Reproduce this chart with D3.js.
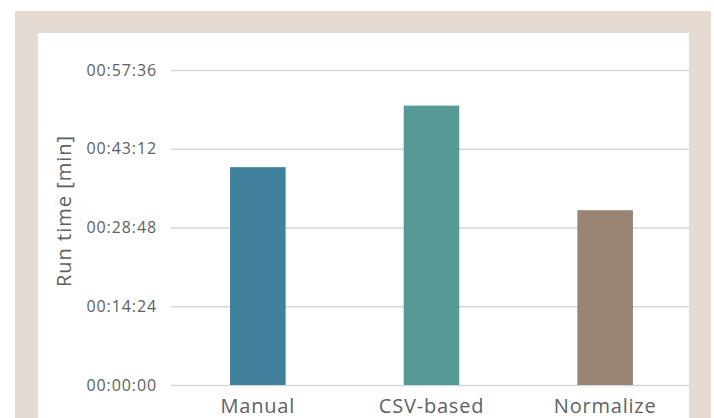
<!DOCTYPE html>
<html>
<head>
<meta charset="utf-8">
<script src="https://cdn.jsdelivr.net/npm/d3@7"></script>
<style>
  html, body { margin: 0; padding: 0; background: #fff; }
  svg { display: block; font-family: "Open Sans", sans-serif; }
</style>
</head>
<body>
<svg id="chart" width="714" height="418"></svg>
<script>
// run times in seconds
const methods = ['Manual', 'CSV-based', 'Normalize'];
const runSeconds = [2390, 3065, 1918];
const barColors = ['#42819e', '#569995', '#9a8574'];
const tickSeconds = [0, 864, 1728, 2592, 3456];

const width = 714, height = 418;
const plot = { left: 171, right: 689, top: 70, bottom: 385 };

const svg = d3.select('#chart');

// beige frame + white panel
svg.append('rect')
  .attr('x', 15).attr('y', 11)
  .attr('width', 696).attr('height', height - 11)
  .attr('fill', '#e6dbd2');
svg.append('rect')
  .attr('x', 38).attr('y', 33)
  .attr('width', 651).attr('height', height - 33)
  .attr('fill', '#fff');

const x = d3.scaleBand()
  .domain(methods)
  .range([plot.left, plot.right + 3])
  .paddingInner(0.68)
  .paddingOuter(0.34);

const y = d3.scaleLinear()
  .domain([0, 3456])
  .range([plot.bottom, plot.top]);

const fmt = s => {
  const h = Math.floor(s / 3600), m = Math.floor((s % 3600) / 60), sec = s % 60;
  return [h, m, sec].map(v => String(v).padStart(2, '0')).join(':');
};

// y axis with gridlines
svg.append('g')
  .attr('transform', `translate(${plot.left},0)`)
  .call(d3.axisLeft(y).tickValues(tickSeconds).tickFormat(fmt).tickSize(0).tickPadding(14))
  .call(g => g.select('.domain').remove())
  .call(g => g.selectAll('.tick text')
    .attr('fill', '#5e6164')
    .attr('font-size', 16)
    .attr('letter-spacing', '0.9px')
    .attr('font-family', '"Open Sans", sans-serif'))
  .call(g => g.selectAll('.tick line').clone()
    .attr('x2', plot.right - plot.left)
    .attr('stroke', '#d3d6da')
    .attr('stroke-width', 1.6));

// bars
svg.append('g')
  .selectAll('rect')
  .data(methods)
  .join('rect')
    .attr('x', d => x(d))
    .attr('width', x.bandwidth())
    .attr('y', (d, i) => y(runSeconds[i]))
    .attr('height', (d, i) => y(0) - y(runSeconds[i]))
    .attr('fill', (d, i) => barColors[i]);

// x axis labels
svg.append('g')
  .attr('transform', `translate(0,${plot.bottom})`)
  .call(d3.axisBottom(x).tickSize(0).tickPadding(14))
  .call(g => g.select('.domain').remove())
  .call(g => g.selectAll('.tick text')
    .attr('fill', '#5e6164')
    .attr('font-size', 20)
    .attr('letter-spacing', '0.8px')
    .attr('font-family', '"Open Sans", sans-serif'));

// y title
svg.append('text')
  .attr('transform', `translate(71,211) rotate(-90)`)
  .attr('text-anchor', 'middle')
  .attr('fill', '#5e6164')
  .attr('font-size', 20)
  .attr('letter-spacing', '1px')
  .text('Run time [min]');
</script>
</body>
</html>
